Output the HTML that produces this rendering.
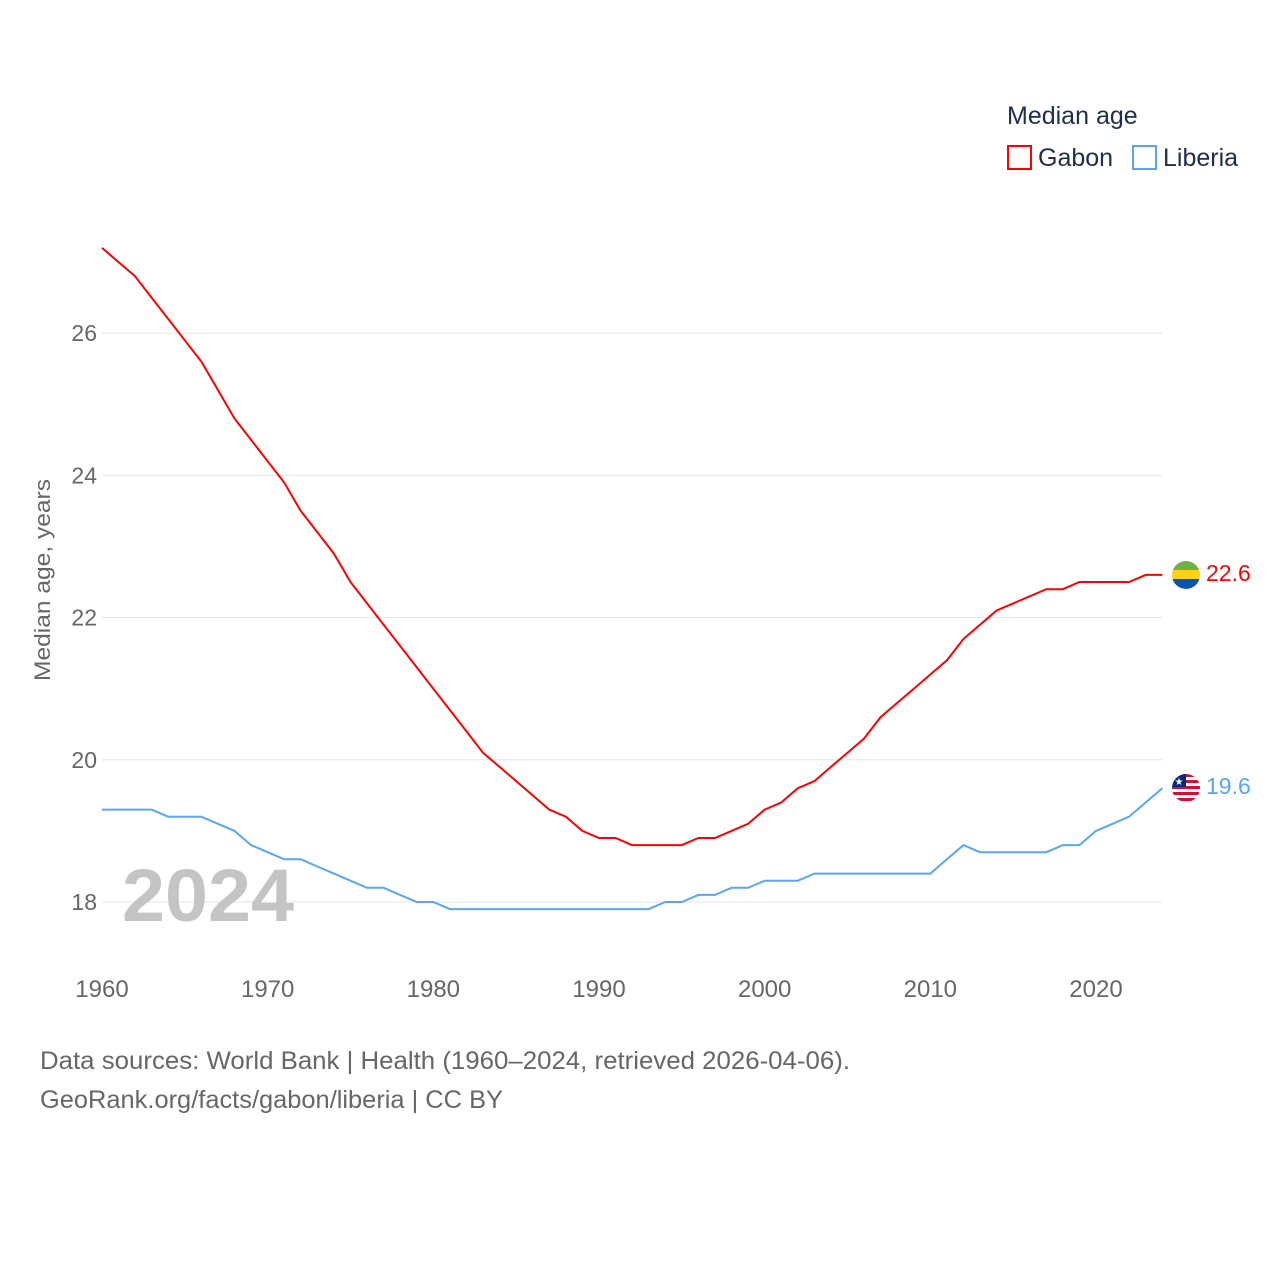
<!DOCTYPE html>
<html><head><meta charset="utf-8"><style>
body{margin:0;background:#fff;font-family:"Liberation Sans",sans-serif}
svg text{font-family:"Liberation Sans",sans-serif}
</style></head><body>
<svg id="chart" width="1280" height="1280" viewBox="0 0 1280 1280" xmlns="http://www.w3.org/2000/svg">
<rect width="1280" height="1280" fill="#fff"/>
<g id="grid"></g>
<g id="xticks"></g>
<g id="yticks"></g>
<text x="208" y="921" font-size="74" font-weight="bold" fill="#c4c4c4" text-anchor="middle" textLength="172" lengthAdjust="spacingAndGlyphs">2024</text>
<g id="lines"></g>
<text transform="translate(50,580) rotate(-90)" font-size="22" fill="#666" text-anchor="middle" textLength="202" lengthAdjust="spacingAndGlyphs">Median age, years</text>
<g>
<text x="1007" y="124" font-size="25" fill="#1f2d4d">Median age</text>
<g><rect x="1008" y="146" width="23" height="23" fill="none" stroke="#ff0000" stroke-width="2"/><text x="1038" y="166" font-size="25" fill="#1f2d4d">Gabon</text></g>
<g><rect x="1133" y="146" width="23" height="23" fill="none" stroke="#5aa5f0" stroke-width="2"/><text x="1163" y="166" font-size="25" fill="#1f2d4d">Liberia</text></g>
</g>
<g>
<clipPath id="cg"><circle cx="1186" cy="575" r="14"/></clipPath>
<g clip-path="url(#cg)"><rect x="1172" y="561" width="28" height="10" fill="#6fb043"/><rect x="1172" y="570" width="28" height="10" fill="#fcd116"/><rect x="1172" y="579" width="28" height="10" fill="#0a52b0"/></g>
</g>
<g>
<clipPath id="cl"><circle cx="1186" cy="788" r="14"/></clipPath>
<g clip-path="url(#cl)"><rect x="1172" y="774" width="28" height="28" fill="#fff"/>
<rect x="1172" y="774" width="28" height="3" fill="#d21034"/><rect x="1172" y="780" width="28" height="3" fill="#d21034"/><rect x="1172" y="786" width="28" height="3" fill="#d21034"/><rect x="1172" y="792" width="28" height="3" fill="#d21034"/><rect x="1172" y="798" width="28" height="3" fill="#d21034"/>
<rect x="1172" y="774" width="14" height="13" fill="#002b7f"/><text x="1179" y="785" font-size="10" fill="#fff" text-anchor="middle">★</text></g>
</g>
<text x="1206" y="581" font-size="23" fill="#ff0000">22.6</text>
<text x="1206" y="794" font-size="23" fill="#5aa5f0">19.6</text>
<text x="40" y="1069" font-size="25" fill="#666" textLength="810" lengthAdjust="spacingAndGlyphs">Data sources: World Bank | Health (1960–2024, retrieved 2026-04-06).</text>
<text x="40" y="1108" font-size="25" fill="#666" textLength="463" lengthAdjust="spacingAndGlyphs">GeoRank.org/facts/gabon/liberia | CC BY</text>
</svg>
<script>
const startYear = 1960;
const gabon = [27.2,27.0,26.8,26.5,26.2,25.9,25.6,25.2,24.8,24.5,24.2,23.9,23.5,23.2,22.9,22.5,22.2,21.9,21.6,21.3,21.0,20.7,20.4,20.1,19.9,19.7,19.5,19.3,19.2,19.0,18.9,18.9,18.8,18.8,18.8,18.8,18.9,18.9,19.0,19.1,19.3,19.4,19.6,19.7,19.9,20.1,20.3,20.6,20.8,21.0,21.2,21.4,21.7,21.9,22.1,22.2,22.3,22.4,22.4,22.5,22.5,22.5,22.5,22.6,22.6];
const liberia = [19.3,19.3,19.3,19.3,19.2,19.2,19.2,19.1,19.0,18.8,18.7,18.6,18.6,18.5,18.4,18.3,18.2,18.2,18.1,18.0,18.0,17.9,17.9,17.9,17.9,17.9,17.9,17.9,17.9,17.9,17.9,17.9,17.9,17.9,18.0,18.0,18.1,18.1,18.2,18.2,18.3,18.3,18.3,18.4,18.4,18.4,18.4,18.4,18.4,18.4,18.4,18.6,18.8,18.7,18.7,18.7,18.7,18.7,18.8,18.8,19.0,19.1,19.2,19.4,19.6];
const xTicks = [1960,1970,1980,1990,2000,2010,2020];
const yTicks = [18,20,22,24,26];
const NS="http://www.w3.org/2000/svg";
const xs = yr => 102 + (yr-1960)*(994/60);
const ys = v => 902 - (v-18)*71.1;
function mk(tag, attrs, parent){const e=document.createElementNS(NS,tag);for(const k in attrs)e.setAttribute(k,attrs[k]);parent.appendChild(e);return e;}
const grid=document.getElementById('grid'), xt=document.getElementById('xticks'), yt=document.getElementById('yticks'), lines=document.getElementById('lines');
yTicks.forEach(v=>{
  const l=mk('line',{x1:102,x2:1162,y1:ys(v),y2:ys(v),stroke:'#e6e6e6','stroke-width':1},grid);
  
  
  const t=mk('text',{x:97,y:ys(v)+8,'font-size':23,fill:'#666','text-anchor':'end'},yt);
  t.textContent=v;
  
  
});
xTicks.forEach(y=>{
  const t=mk('text',{x:xs(y),y:997,'font-size':24,fill:'#666','text-anchor':'middle'},xt);
  t.textContent=y;
  
  
});
function path(arr){return arr.map((v,i)=>(i?'L':'M')+xs(startYear+i).toFixed(1)+','+ys(v).toFixed(1)).join(' ');}
const pl=mk('path',{d:path(liberia),fill:'none',stroke:'#5aa5f0','stroke-width':2},lines);


const pg=mk('path',{d:path(gabon),fill:'none',stroke:'#ff0000','stroke-width':2},lines);


</script>
</body></html>
